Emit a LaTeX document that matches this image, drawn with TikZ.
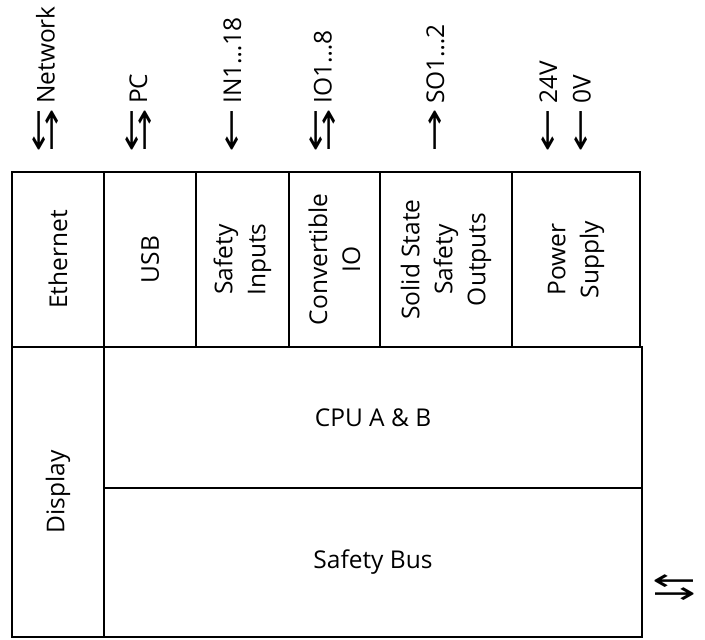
\documentclass[tikz,border=0pt]{standalone}
\usepackage{fontspec}
\setmainfont{Open Sans}
\newfontfamily\arrowfont{DejaVu Sans}
\begin{document}
\begin{tikzpicture}[x=1pt,y=-1pt,
  cell/.style={draw, line width=2.2pt, inner sep=0pt, outer sep=0pt},
  boxlabel/.style={rotate=90, align=center, inner sep=0pt, font=\fontsize{24.5}{33}\selectfont},
  toplabel/.style={rotate=90, anchor=base west, inner sep=0pt, font=\fontsize{24.5}{28}\selectfont},
  flatlabel/.style={inner sep=0pt, font=\fontsize{24.5}{28}\selectfont}
]
\useasboundingbox (0,0) rectangle (705,640);
\newcommand{\harr}[1]{\scalebox{1.75}[1]{\arrowfont\fontsize{30}{30}\selectfont #1}}
\newcommand{\dblarr}{\raisebox{-7pt}{\vbox{\baselineskip=12.6pt\lineskiplimit=-100pt\hbox{\harr{←}}\hbox{\harr{→}}}}}
\newcommand{\sgl}[1]{\harr{#1}\hspace{5pt}}
\newcommand{\dbl}{\dblarr\hspace{5pt}}
% top row cells
\node[cell, minimum width=92, minimum height=175] (eth) at (58,259.5) {};
\node[cell, minimum width=92, minimum height=175] (usb) at (150,259.5) {};
\node[cell, minimum width=93, minimum height=175] (sin) at (242.5,259.5) {};
\node[cell, minimum width=91, minimum height=175] (cio) at (334.5,259.5) {};
\node[cell, minimum width=132, minimum height=175] (sso) at (446,259.5) {};
\node[cell, minimum width=128, minimum height=175] (psu) at (576,259.5) {};
% bottom section
\node[cell, minimum width=92, minimum height=290] (disp) at (58,492) {};
\node[cell, minimum width=538, minimum height=141] (cpu) at (373,417.5) {};
\node[cell, minimum width=538, minimum height=149] (bus) at (373,562.5) {};
% cell labels
\node[boxlabel] (ethL) at (eth) {Ethernet};
\node[boxlabel] (usbL) at (usb) {USB};
\node[boxlabel] (sinL) at (sin) {Safety\\Inputs};
\node[boxlabel] (cioL) at (cio) {Convertible\\IO};
\node[boxlabel] (ssoL) at (sso) {Solid State\\Safety\\Outputs};
\node[boxlabel] (psuL) at (psu) {Power\\Supply};
\node[boxlabel] (dispL) at (disp) {Display};
\node[flatlabel] (cpuL) at (cpu) {CPU A \& B};
\node[flatlabel] (busL) at (bus) {Safety Bus};
% top signal labels
\node[toplabel] (net) at (54.5,153) {\dbl Network};
\node[toplabel] (pc) at (147,153) {\dbl PC};
\node[toplabel] (in) at (241,153) {\sgl{←}IN1…18};
\node[toplabel] (io) at (331.5,153) {\dbl IO1…8};
\node[toplabel] (so) at (444,153) {\sgl{→}SO1…2};
\node[toplabel] (v24) at (557,153) {\sgl{←}24V};
\node[toplabel] (v0) at (590.5,153) {\sgl{←}0V};
% side bus arrow
\node[inner sep=0pt, anchor=base] (busarr) at (674.5,596.3) {\dblarr};
\end{tikzpicture}
\end{document}
